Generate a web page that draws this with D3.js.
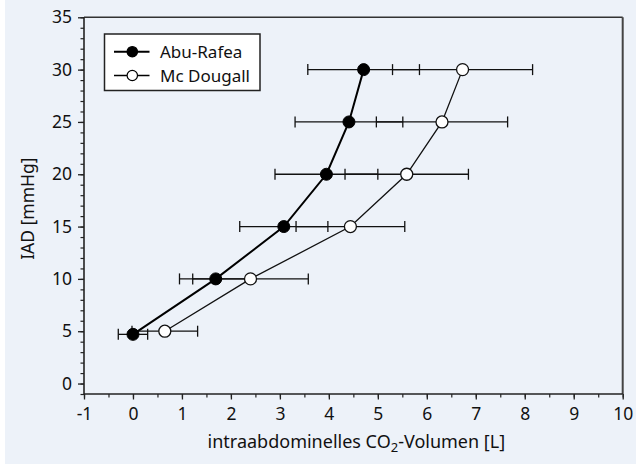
<!DOCTYPE html>
<html>
<head>
<meta charset="utf-8">
<script src="https://cdn.jsdelivr.net/npm/d3@7"></script>
<style>
  html, body { margin: 0; padding: 0; background: #ffffff; }
  svg { display: block; }
  text { font-family: "Noto Sans", "Open Sans", sans-serif; fill: #111; }
</style>
</head>
<body>
<svg id="chart" width="636" height="465"></svg>
<script>
// ---- data ----
const seriesNames = ["Abu-Rafea", "Mc Dougall"];
const abuY   = [4.7, 10, 15, 20, 25, 30];
const abuX   = [0, 1.69, 3.08, 3.95, 4.41, 4.71];
const abuErr = [0.3, 0.74, 0.9, 1.05, 1.1, 1.14];
const mcdY   = [5, 10, 15, 20, 25, 30];
const mcdX   = [0.65, 2.4, 4.44, 5.59, 6.31, 6.73];
const mcdErr = [0.67, 1.18, 1.11, 1.26, 1.34, 1.43];
const xTicks = [-1, 0, 1, 2, 3, 4, 5, 6, 7, 8, 9, 10];
const yTicks = [0, 5, 10, 15, 20, 25, 30, 35];
const xLabelMain = "intraabdominelles CO";
const xLabelSub = "2";
const xLabelTail = "-Volumen [L]";
const yLabel = "IAD [mmHg]";

// ---- layout ----
const svg = d3.select("#chart");
const L = 84, R = 622.7, T = 17.3, B = 394;
const x = d3.scaleLinear().domain([-1, 10]).range([L, R]);
const y = d3.scaleLinear().domain([-1, 35]).range([B, T]);

svg.append("rect").attr("x", 5).attr("y", 0).attr("width", 631).attr("height", 464)
  .attr("fill", "#edf2f9");

// frame top/right
svg.append("line").attr("x1", L).attr("x2", R).attr("y1", T).attr("y2", T)
  .attr("stroke", "#333").attr("stroke-width", 1.5);
svg.append("line").attr("x1", R).attr("x2", R).attr("y1", T).attr("y2", B)
  .attr("stroke", "#444").attr("stroke-width", 2);

// minor ticks
const xMinor = d3.range(-1, 10.01, 0.5);
const yMinor = d3.range(-1, 35.01, 1);
svg.append("g").attr("transform", `translate(0,${B})`)
  .call(d3.axisBottom(x).tickValues(xMinor).tickSize(3.5).tickFormat(""))
  .call(g => g.select(".domain").remove())
  .call(g => g.selectAll("line").attr("stroke", "#222").attr("stroke-width", 1.2));
svg.append("g").attr("transform", `translate(${L},0)`)
  .call(d3.axisLeft(y).tickValues(yMinor).tickSize(3.5).tickFormat(""))
  .call(g => g.select(".domain").remove())
  .call(g => g.selectAll("line").attr("stroke", "#222").attr("stroke-width", 1.2));

// major axes
const fmt = d => d < 0 ? "-" + Math.abs(d) : String(d);
const gx = svg.append("g").attr("transform", `translate(0,${B})`)
  .call(d3.axisBottom(x).tickValues(xTicks).tickSize(5.5).tickSizeOuter(0).tickPadding(8.5).tickFormat(fmt));
const gy = svg.append("g").attr("transform", `translate(${L},0)`)
  .call(d3.axisLeft(y).tickValues(yTicks).tickSize(6).tickSizeOuter(0).tickPadding(6).tickFormat(fmt));
[gx, gy].forEach(g => {
  g.select(".domain").attr("stroke", "#222").attr("stroke-width", 1.6);
  g.selectAll(".tick line").attr("stroke", "#222").attr("stroke-width", 1.3);
  g.selectAll(".tick text").attr("font-size", 17.5).attr("font-family", "Noto Sans, sans-serif").attr("fill", "#111");
});
gy.select(".domain").attr("d", `M0,${B}V${T}`);
gx.select(".domain").attr("d", `M${L},0H${R}`);

// axis labels
const xl = svg.append("text").attr("x", (L + R) / 2 + 3).attr("y", 448)
  .attr("text-anchor", "middle").attr("font-size", 18);
xl.append("tspan").text(xLabelMain);
xl.append("tspan").attr("font-size", 13).attr("dy", 4).text(xLabelSub);
xl.append("tspan").attr("dy", -4).text(xLabelTail);

svg.append("text").attr("transform", `translate(34,${(T + B) / 2 + 3}) rotate(-90)`)
  .attr("text-anchor", "middle").attr("font-size", 17.5).text(yLabel);

// data
const abu = abuY.map((v, i) => ({ x: abuX[i], y: v, e: abuErr[i] }));
const mcd = mcdY.map((v, i) => ({ x: mcdX[i], y: v, e: mcdErr[i] }));
const capH = 5.5;

function errorBars(data) {
  const g = svg.append("g").attr("stroke", "#111").attr("stroke-width", 1.3).attr("fill", "none");
  data.forEach(d => {
    g.append("line").attr("x1", x(d.x - d.e)).attr("x2", x(d.x + d.e)).attr("y1", y(d.y)).attr("y2", y(d.y));
    [d.x - d.e, d.x + d.e].forEach(v => {
      g.append("line").attr("x1", x(v)).attr("x2", x(v)).attr("y1", y(d.y) - capH).attr("y2", y(d.y) + capH);
    });
  });
}
errorBars(mcd);
errorBars(abu);

const line = d3.line().x(d => x(d.x)).y(d => y(d.y));
svg.append("path").datum(mcd).attr("d", line).attr("fill", "none").attr("stroke", "#111").attr("stroke-width", 1.3);
svg.append("path").datum(abu).attr("d", line).attr("fill", "none").attr("stroke", "#000").attr("stroke-width", 2);

svg.append("g").selectAll("circle").data(mcd).join("circle")
  .attr("cx", d => x(d.x)).attr("cy", d => y(d.y)).attr("r", 6)
  .attr("fill", "#fff").attr("stroke", "#111").attr("stroke-width", 1.3);
svg.append("g").selectAll("circle").data(abu).join("circle")
  .attr("cx", d => x(d.x)).attr("cy", d => y(d.y)).attr("r", 6)
  .attr("fill", "#000").attr("stroke", "#000").attr("stroke-width", 1);

// legend
const lg = svg.append("g");
lg.append("rect").attr("x", 104.5).attr("y", 34).attr("width", 155.5).attr("height", 56.5)
  .attr("fill", "#fff").attr("stroke", "#222").attr("stroke-width", 1.5);
const legendRows = [
  { name: seriesNames[0], cy: 51.7, fill: "#000", sw: 2 },
  { name: seriesNames[1], cy: 75.5, fill: "#fff", sw: 1.3 }
];
legendRows.forEach(r => {
  lg.append("line").attr("x1", 114).attr("x2", 149.5).attr("y1", r.cy).attr("y2", r.cy)
    .attr("stroke", "#000").attr("stroke-width", r.sw);
  lg.append("circle").attr("cx", 132.3).attr("cy", r.cy).attr("r", 5.2)
    .attr("fill", r.fill).attr("stroke", "#000").attr("stroke-width", 1.2);
  lg.append("text").attr("x", 160).attr("y", r.cy + 6).attr("font-size", 17).text(r.name);
});
</script>
</body>
</html>
